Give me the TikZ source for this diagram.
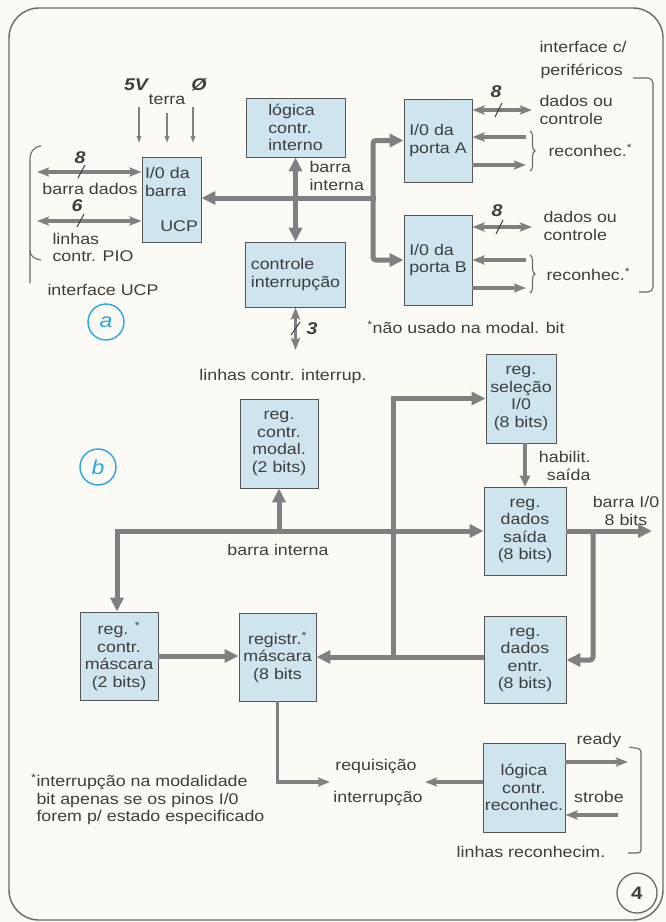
\documentclass[tikz,border=0pt]{standalone}
\usepackage{fontspec}
\setmainfont{Liberation Sans}[FakeStretch=1.15]
\usetikzlibrary{arrows.meta,decorations.pathreplacing,calc}
\definecolor{bgc}{RGB}{251,250,244}
\definecolor{boxf}{RGB}{206,229,239}
\definecolor{bord}{RGB}{85,85,85}
\definecolor{busc}{RGB}{128,128,128}
\definecolor{txt}{RGB}{62,62,62}
\definecolor{cyanc}{RGB}{40,165,228}
\definecolor{framec}{RGB}{105,105,105}
\tikzset{
  BH/.tip={Triangle[length=14pt,width=13pt]},
  HH/.tip={Triangle[length=11pt,width=10pt]},
  MH/.tip={Stealth[length=12pt,width=9pt,inset=2pt]},
  TH/.tip={Triangle[length=7pt,width=4.5pt]},
  box/.style={draw=bord, fill=boxf, line width=0.9pt, inner sep=0pt, align=center},
  busl/.style={draw=busc, line width=5pt},
  habl/.style={draw=busc, line width=4pt},
  med/.style={draw=busc, line width=3.5pt},
  medt/.style={draw=busc, line width=3.3pt},
  thinarrow/.style={draw=busc, line width=1.2pt},
  thinl/.style={draw=framec, line width=1.1pt},
  tick/.style={draw=txt, line width=1pt},
  num/.style={font=\fontsize{17}{19}\selectfont\bfseries\itshape},
  circ/.style={circle, draw=cyanc, line width=1.4pt, minimum size=36pt, inner sep=0pt, text=cyanc, font=\fontsize{20}{22}\selectfont\itshape},
}
\begin{document}
\begin{tikzpicture}[x=1pt,y=-1pt, font=\fontsize{15.5}{17.5}\selectfont, text=txt]
\fill[bgc] (0,0) rectangle (666,922);
\useasboundingbox (0,0) rectangle (666,922);
\draw[framec, line width=1.4pt, rounded corners=30pt] (9,8) rectangle (663,920);

% ---------- part a ----------
\node[box,minimum width=59pt,minimum height=85pt,text width=53pt,align=left] (ucp) at (171.5,199.5) {I/0 da\\barra\\\null\hfill UCP};
\node[box,minimum width=99pt,minimum height=59pt,align=left] (logica) at (295.5,127.5) {lógica\\contr.\\interno};
\node[box,minimum width=100pt,minimum height=65pt,align=left] (ctrl) at (295.5,274.5) {controle\\interrupção};
\node[box,minimum width=68pt,minimum height=83pt,align=left] (pA) at (438,140.5) {I/0 da\\porta A};
\node[box,minimum width=68pt,minimum height=90pt,align=left] (pB) at (438,260) {I/0 da\\porta B};

\coordinate (j) at (375.5,198);
\coordinate (jv) at (373,198);
\draw[busl,-BH] (j) -- (ucp.east |- j);
\draw[busl,BH-BH] (logica.south) -- (ctrl.north);
\draw[busl,-BH,rounded corners=3pt] (jv) |- (pA.west);
\draw[busl,-BH,rounded corners=3pt] (jv) |- (pB.west);

\coordinate (c3) at (295.5,350);
\draw[med,MH-MH] (ctrl.south) -- (c3);
\draw[tick] (291,335) -- (300,322);
\node[num] (n3) at (312,329) {3};

\coordinate (d8) at (37,172);
\coordinate (d6) at (37,221);
\draw[med,MH-MH] (d8) -- (ucp.west |- d8);
\draw[med,MH-MH] (d6) -- (ucp.west |- d6);
\draw[tick] (78,178) -- (85,165);
\draw[tick] (77,227) -- (84,214);
\node[num] (n8a) at (80,158) {8};
\node[num] (n6) at (77,206) {6};

\coordinate (v1a) at (139,107); \coordinate (v1b) at (139,143);
\coordinate (v2a) at (167,113); \coordinate (v2b) at (167,143);
\coordinate (v3a) at (193,107); \coordinate (v3b) at (193,143);
\draw[thinarrow,-TH] (v1a) -- (v1b);
\draw[thinarrow,-TH] (v2a) -- (v2b);
\draw[thinarrow,-TH] (v3a) -- (v3b);
\node[num] (t5v) at (136,85) {5V};
\node (tterra) at (167,100) {terra};
\node[num] (tphi) at (199,85) {Ø};

\node (tbd) at (90,189) {barra dados};
\node[align=left,anchor=west] (tlin) at (49,247.5) {linhas\\contr. PIO};
\node (tiucp) at (103,290) {interface UCP};
\node[circ] (ca) at (106,322) {a};
\draw[thinl] (41,146) .. controls (33,147) and (30,152) .. (30,160) -- (30,283);
\draw[thinl] (30,250) .. controls (30,256) and (34,259) .. (41,260);

\node[align=left,anchor=west] (tbi) at (306,176) {barra\\interna};
\node (tlci) at (283,376) {linhas contr. interrup.};
\node (tnu) at (466,327) {\textsuperscript{*}não usado na modal. bit};

\node[anchor=west] (tif1) at (536,47) {interface c/};
\node[anchor=west] (tif2) at (537,71) {periféricos};
\draw[thinl,rounded corners=5pt] (633,78) -- (653,78) -- (653,292) -- (639,292);

% porta A
\coordinate (a8) at (532,110);
\draw[med,MH-MH] (pA.east |- a8) -- (a8);
\draw[tick] (495,117) -- (502,103);
\node[num] (n8b) at (496,92) {8};
\node[align=left,anchor=west] (tdc1) at (536,110) {dados ou\\controle};
\coordinate (ra1) at (526,137);
\coordinate (ra2) at (526,165);
\draw[medt,-MH] (ra1) -- (pA.east |- ra1);
\draw[medt,-MH] (pA.east |- ra2) -- (ra2);
\draw[thinl,decorate,decoration={brace,amplitude=5pt}] (530,131) -- (530,171);
\node[anchor=west] (trA) at (545,150) {reconhec.\textsuperscript{*}};

% porta B
\coordinate (b8) at (532,227);
\draw[med,MH-MH] (pB.east |- b8) -- (b8);
\draw[tick] (496,234) -- (503,220);
\node[num] (n8c) at (497,211) {8};
\node[align=left,anchor=west] (tdc2) at (540,226) {dados ou\\controle};
\coordinate (rb1) at (526,260);
\coordinate (rb2) at (526,288);
\draw[medt,-MH] (rb1) -- (pB.east |- rb1);
\draw[medt,-MH] (pB.east |- rb2) -- (rb2);
\draw[thinl,decorate,decoration={brace,amplitude=5pt}] (530,255) -- (530,293);
\node[anchor=west] (trB) at (543,274) {reconhec.\textsuperscript{*}};

% ---------- part b ----------
\node[box,minimum width=70pt,minimum height=89pt] (sel) at (521,398.5) {reg.\\seleção\\I/0\\(8 bits)};
\node[box,minimum width=78pt,minimum height=89pt] (modal) at (279,443.5) {reg.\\contr.\\modal.\\(2 bits)};
\node[box,minimum width=82pt,minimum height=88pt] (said) at (525,531) {reg.\\dados\\saída\\(8 bits)};
\node[box,minimum width=78pt,minimum height=88pt] (cmas) at (119,656) {reg. \textsuperscript{*}\\contr.\\máscara\\(2 bits)};
\node[box,minimum width=77pt,minimum height=88pt] (rmas) at (277.5,657) {registr.\textsuperscript{*}\\máscara\\(8 bits};
\node[box,minimum width=82pt,minimum height=87pt] (entr) at (525,660) {reg.\\dados\\entr.\\(8 bits)};
\node[box,minimum width=82pt,minimum height=89pt] (rec) at (524,787.5) {lógica\\contr.\\reconhec.};

\coordinate (bl) at (117,531);
\draw[busl,BH-BH] (said.west) -- (bl) -- (bl |- cmas.north);
\draw[busl,-BH] (modal.south |- bl) -- (modal.south);

\coordinate (vb) at (393,659);
\draw[busl,-BH] (vb) |- (sel.west);
\draw[busl,-BH] (entr.west |- rmas.east) -- (rmas.east);

\coordinate (bio) at (652,531);
\coordinate (vc) at (593,531);
\draw[busl,-BH] (said.east) -- (bio);
\draw[busl,-BH,rounded corners=3pt] (vc) |- (entr.east);

\draw[habl,-HH] (said.north |- sel.south) -- (said.north);
\draw[busl,-BH] (cmas.east) -- (rmas.west |- cmas.east);

\coordinate (rq) at (330,782);
\coordinate (ri) at (425,782);
\draw[med,-MH] (rmas.south) |- (rq);
\draw[medt,-MH] (rec.west |- ri) -- (ri);
\coordinate (rd) at (628,762);
\coordinate (sb) at (618,815);
\draw[medt,-MH] (rec.east |- rd) -- (rd);
\draw[medt,-MH] (sb) -- (rec.east |- sb);
\draw[thinl,rounded corners=3pt] (629,747) -- (641,749) -- (641,853) -- (628,853);

\node (tbi2) at (278,550) {barra interna};
\node[anchor=east,align=right] (thab) at (594,466) {habilit.\\saída};
\node[align=center] (tbio) at (626,511) {barra I/0\\8 bits};
\node (treq) at (376,767) {requisição};
\node (tint) at (378,799) {interrupção};
\node (trdy) at (599,740) {ready};
\node (tstb) at (599,797) {strobe};
\node (tlr) at (531,852) {linhas reconhecim.};
\node[anchor=west,align=left] (tfn) at (33,799.5) {\llap{\textsuperscript{*}}interrupção na modalidade\\bit apenas se os pinos I/0\\forem p/ estado especificado};

\node[circ] (cb) at (98,467) {b};
\node[circle, draw=framec, line width=1.3pt, minimum size=40pt, inner sep=0pt, font=\fontsize{18}{20}\selectfont\bfseries] (c4) at (637,893) {4};
\end{tikzpicture}
\end{document}
